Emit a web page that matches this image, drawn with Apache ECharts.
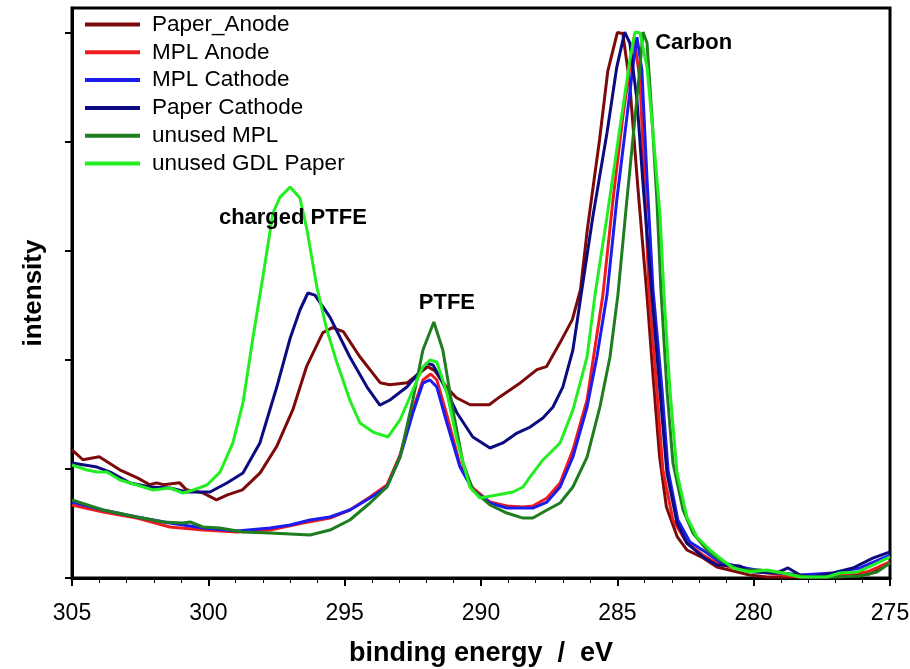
<!DOCTYPE html>
<html>
<head>
<meta charset="utf-8">
<script src="https://cdn.jsdelivr.net/npm/echarts@6/dist/echarts.min.js"></script>
<style>
html,body{margin:0;padding:0;background:#fff;}
#chart{width:910px;height:669px;}
</style>
</head>
<body>
<div id="chart"></div>
<script>
// Binding energy (eV) / intensity (arb. units) pairs
const seriesNames = ['Paper_Anode', 'MPL Anode', 'MPL Cathode', 'Paper Cathode', 'unused MPL', 'unused GDL Paper'];
const xTicks = [305, 300, 295, 290, 285, 280, 275];
const yTicks = [0, 100, 200, 300, 400, 500];

const paperAnode = [[305.0,117.6],[304.6,108.5],[304.0,111.2],[303.25,99.3],[302.6,91.9],[302.15,85.5],[301.9,87.3],[301.65,85.5],[301.05,87.3],[300.8,80.9],[300.2,78.1],[299.7,71.7],[299.3,76.3],[298.75,80.9],[298.1,96.5],[297.5,120.4],[296.9,154.4],[296.4,193.9],[295.8,225.2],[295.45,229.8],[295.05,226.1],[294.45,203.2],[293.7,179.2],[293.35,177.4],[292.7,179.2],[291.95,193.9],[291.7,190.3],[291.25,174.6],[290.9,165.4],[290.4,159.0],[289.7,159.0],[289.3,166.4],[288.55,179.2],[287.95,191.2],[287.6,193.9],[287.1,216.0],[286.65,237.1],[286.35,264.7],[286.1,319.9],[285.65,402.6],[285.35,465.1],[285.0,500.5],[284.8,499.6],[284.55,455.0],[284.25,359.4],[283.9,255.5],[283.7,188.4],[283.45,111.2],[283.2,65.2],[282.8,37.7],[282.45,25.7],[281.85,18.4],[281.35,10.1],[280.15,2.8],[279.5,0.9],[278.3,0.9],[276.85,0.9],[275.75,3.7],[275.0,13.8]];

const mplAnode = [[305.0,67.0],[303.86,60.6],[302.62,55.0],[301.41,46.8],[300.2,44.0],[298.95,42.2],[297.74,44.0],[296.53,50.5],[295.54,55.0],[294.81,62.4],[294.07,74.3],[293.45,85.3],[292.97,112.8],[292.5,154.1],[292.13,181.7],[291.84,187.2],[291.62,181.7],[291.25,149.5],[290.77,103.7],[290.3,82.6],[289.67,69.7],[289.05,66.1],[288.46,65.1],[288.1,66.1],[287.58,73.4],[287.1,87.2],[286.63,117.4],[286.11,163.3],[285.53,259.6],[285.16,346.8],[284.8,422.9],[284.54,468.8],[284.39,496.3],[284.17,456.9],[283.99,356.0],[283.84,264.2],[283.55,172.5],[283.33,99.1],[282.96,53.2],[282.45,32.1],[281.86,21.1],[281.35,13.8],[280.76,9.2],[279.51,4.6],[278.3,0.9],[277.09,2.8],[275.85,5.5],[275.0,14.7]];

const mplCathode = [[305.0,69.7],[303.86,62.4],[302.62,56.0],[301.41,50.5],[300.2,45.9],[298.95,43.1],[297.74,45.9],[297.0,48.6],[296.27,53.2],[295.54,56.0],[294.81,62.4],[294.07,73.4],[293.45,83.5],[292.97,111.0],[292.5,151.4],[292.13,178.9],[291.87,181.7],[291.62,175.2],[291.25,142.2],[290.77,101.8],[290.3,80.7],[289.67,68.8],[289.05,64.2],[288.57,64.2],[288.1,64.2],[287.58,69.7],[287.1,83.5],[286.63,111.0],[286.11,156.9],[285.75,202.8],[285.38,259.6],[285.02,346.8],[284.65,422.9],[284.43,468.8],[284.28,496.3],[284.1,466.1],[283.91,365.1],[283.69,264.2],[283.36,172.5],[283.14,99.1],[282.78,53.2],[282.34,33.0],[281.71,22.9],[281.24,14.7],[280.5,10.1],[279.51,5.5],[278.3,2.8],[277.09,4.6],[276.1,9.2],[275.0,21.1]];

const paperCathode = [[305.0,105.5],[304.08,101.8],[303.6,97.2],[302.87,87.2],[302.14,83.5],[301.41,82.6],[300.78,78.9],[299.94,78.9],[299.32,87.2],[298.73,96.3],[298.11,123.9],[297.49,175.2],[297.0,220.0],[296.64,245.9],[296.35,261.5],[296.09,259.6],[295.54,239.4],[294.81,202.8],[294.18,175.2],[293.71,158.7],[293.34,163.3],[292.72,175.2],[291.98,197.2],[291.76,195.4],[291.4,178.9],[290.88,151.4],[290.3,129.4],[289.67,119.3],[289.2,123.9],[288.68,133.0],[288.2,138.5],[287.73,146.8],[287.36,156.9],[287.0,175.2],[286.63,209.2],[286.33,259.6],[285.9,331.2],[285.38,408.3],[285.02,468.8],[284.73,500.9],[284.54,490.8],[284.28,438.5],[284.06,362.4],[283.73,259.6],[283.44,172.5],[283.18,96.3],[282.81,50.5],[282.45,32.1],[281.86,19.3],[281.35,11.9],[280.5,11.0],[280.03,5.5],[279.15,4.6],[278.74,9.2],[278.3,2.8],[277.94,0.9],[277.09,4.6],[276.36,9.2],[275.63,18.3],[275.0,23.9]];

const unusedMPL = [[305.0,71.6],[303.86,62.4],[302.62,56.0],[301.66,51.4],[300.93,50.5],[300.67,51.4],[300.2,46.8],[299.57,45.9],[298.73,42.2],[297.74,41.3],[297.0,40.4],[296.27,39.4],[295.54,44.0],[294.81,53.2],[294.07,68.8],[293.45,83.5],[292.97,111.0],[292.5,163.3],[292.13,209.2],[291.73,234.9],[291.4,209.2],[291.03,154.1],[290.66,105.5],[290.3,80.7],[289.67,67.0],[289.05,59.6],[288.46,55.0],[288.1,55.0],[287.58,62.4],[287.1,68.8],[286.63,83.5],[286.11,111.0],[285.64,156.9],[285.27,202.8],[284.98,259.6],[284.65,346.8],[284.35,422.9],[284.17,468.8],[284.06,500.9],[283.91,490.8],[283.73,422.9],[283.55,346.8],[283.4,264.2],[283.18,172.5],[282.96,105.5],[282.59,62.4],[282.23,41.3],[281.71,25.7],[281.24,16.5],[280.5,7.3],[279.77,7.3],[278.93,4.6],[278.05,0.9],[277.09,0.9],[276.1,1.8],[275.48,5.5],[275.0,13.8]];

const unusedGDL = [[305.0,103.7],[304.45,99.1],[304.08,97.2],[303.72,97.2],[303.24,89.9],[302.62,85.3],[302.03,80.7],[301.41,82.6],[300.93,78.0],[300.56,80.7],[300.05,85.3],[299.57,97.2],[299.1,123.9],[298.73,160.6],[298.36,221.1],[298.0,276.1],[297.63,334.9],[297.37,349.5],[297.0,358.7],[296.64,348.6],[296.38,319.3],[296.02,267.0],[295.65,227.5],[295.28,197.2],[294.81,163.3],[294.44,142.2],[293.96,133.9],[293.41,129.4],[292.97,145.0],[292.5,172.5],[292.13,193.6],[291.87,200.0],[291.62,198.2],[291.25,169.7],[290.88,126.6],[290.41,83.5],[290.04,73.4],[289.42,76.1],[288.83,78.9],[288.46,83.5],[288.2,92.7],[287.73,108.3],[287.1,123.9],[286.63,154.1],[286.11,202.8],[285.82,259.6],[285.38,331.2],[284.9,413.8],[284.54,475.2],[284.35,500.9],[284.17,500.0],[283.91,468.8],[283.69,408.3],[283.43,331.2],[283.29,259.6],[283.07,172.5],[282.81,96.3],[282.45,56.0],[282.08,37.6],[281.6,25.7],[281.24,18.3],[280.76,9.2],[280.14,5.5],[279.51,7.3],[278.93,4.6],[278.3,0.9],[277.31,0.9],[276.84,4.6],[276.21,5.5],[275.63,11.9],[275.0,19.3]];

const annotations = [
  {text: 'charged PTFE', x: 296.9, y: 330},
  {text: 'PTFE', x: 291.25, y: 252},
  {text: 'Carbon', x: 282.2, y: 491}
];

const colors = ['#7c0a0a', '#ee1c1c', '#1c1cee', '#0c0c80', '#1f7d1f', '#22ee22'];
const allData = [paperAnode, mplAnode, mplCathode, paperCathode, unusedMPL, unusedGDL];
const FONT = '"Liberation Sans", Arial, Helvetica, sans-serif';

const series = seriesNames.map((name, i) => ({
  name: name,
  type: 'line',
  data: allData[i],
  showSymbol: false,
  symbol: 'none',
  smooth: false,
  lineStyle: {color: colors[i], width: 3},
  itemStyle: {color: colors[i]},
  z: 2 + i,
  animation: false
}));

series.push({
  name: '_labels',
  type: 'scatter',
  data: annotations.map(a => ({value: [a.x, a.y], name: a.text})),
  symbolSize: 0,
  silent: true,
  z: 20,
  itemStyle: {opacity: 1, color: '#000'},
  label: {
    show: true,
    position: 'inside',
    formatter: p => p.name,
    fontFamily: FONT,
    fontWeight: 'bold',
    fontSize: 22,
    color: '#000',
    opacity: 1
  },
  animation: false
});

const chart = echarts.init(document.getElementById('chart'), null, {renderer: 'canvas'});
chart.setOption({
  backgroundColor: '#fff',
  animation: false,
  grid: {left: 72, right: 20, top: 8, bottom: 91, containLabel: false, outerBoundsMode: 'none', show: true, borderColor: '#000', borderWidth: 3, backgroundColor: 'transparent'},
  legend: {
    data: seriesNames,
    orient: 'vertical',
    left: 85,
    top: 13,
    padding: 0,
    itemGap: 4.8,
    itemWidth: 55,
    itemHeight: 4,
    icon: 'rect',
    textStyle: {fontFamily: FONT, fontSize: 22.5, color: '#000', lineHeight: 22, padding: [0, 0, 0, 7]},
    selectedMode: false
  },
  xAxis: {
    type: 'value',
    min: 275,
    max: 305,
    interval: 5,
    inverse: true,
    name: 'binding energy  /  eV',
    nameLocation: 'middle',
    nameGap: 62,
    nameTextStyle: {fontFamily: FONT, fontWeight: 'bold', fontSize: 27, color: '#000'},
    axisLine: {show: true, onZero: false, lineStyle: {color: '#000', width: 3}},
    axisTick: {show: true, inside: false, length: 8, lineStyle: {color: '#000', width: 2}, customValues: xTicks},
    minorTick: {show: true, splitNumber: 5, length: 5, lineStyle: {color: '#000', width: 1}},
    axisLabel: {fontFamily: FONT, fontSize: 23, color: '#000', margin: 24, customValues: xTicks},
    splitLine: {show: false}
  },
  yAxis: {
    type: 'value',
    min: 0,
    max: 523,
    interval: 100,
    name: 'intensity',
    nameLocation: 'middle',
    nameGap: 25,
    nameTextStyle: {fontFamily: FONT, fontWeight: 'bold', fontSize: 26, color: '#000'},
    axisLine: {show: true, onZero: false, lineStyle: {color: '#000', width: 3}},
    axisTick: {show: true, inside: false, length: 7, lineStyle: {color: '#000', width: 2}, customValues: yTicks},
    axisLabel: {show: false},
    splitLine: {show: false}
  },
  series: series
});
</script>
</body>
</html>
